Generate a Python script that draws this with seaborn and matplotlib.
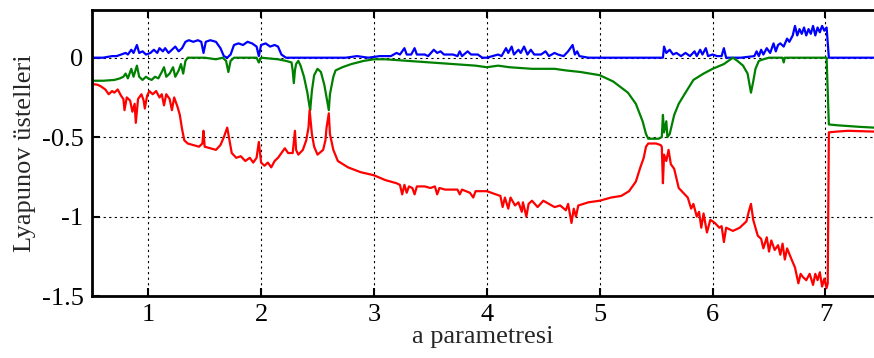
import matplotlib
matplotlib.use("Agg")
import matplotlib.pyplot as plt
import seaborn as sns

sns.set_style("white")
plt.rcParams['font.family'] = ['Liberation Serif', 'DejaVu Serif']
plt.rcParams['axes.unicode_minus'] = False

# largest exponent (blue)
a_blue = [0.50, 0.60, 0.68, 0.72, 0.76, 0.80, 0.82, 0.85, 0.87, 0.90, 0.92, 0.95, 0.98, 1.02, 1.05,
          1.08, 1.10, 1.13, 1.15, 1.18, 1.21, 1.24, 1.27, 1.30, 1.33, 1.36, 1.40, 1.44, 1.47, 1.49,
          1.51, 1.55, 1.60, 1.64, 1.67, 1.70, 1.73, 1.76, 1.80, 1.84, 1.88, 1.92, 1.96, 1.98, 2.00,
          2.04, 2.08, 2.12, 2.15, 2.18, 2.22, 2.60, 2.75, 2.85, 2.95, 3.05, 3.15, 3.20, 3.23, 3.27,
          3.29, 3.33, 3.36, 3.38, 3.45, 3.48, 3.53, 3.56, 3.59, 3.62, 3.70, 3.74, 3.76, 3.78, 3.83,
          3.86, 3.92, 3.96, 4.00, 4.05, 4.10, 4.13, 4.17, 4.19, 4.22, 4.24, 4.28, 4.30, 4.33, 4.36,
          4.39, 4.42, 4.48, 4.52, 4.55, 4.60, 4.63, 4.68, 4.72, 4.76, 4.78, 4.80, 4.82, 4.90, 5.00,
          5.56, 5.57, 5.59, 5.62, 5.65, 5.68, 5.72, 5.76, 5.80, 5.84, 5.86, 5.89, 5.91, 5.94, 5.96,
          6.00, 6.04, 6.08, 6.10, 6.12, 6.25, 6.37, 6.39, 6.41, 6.43, 6.45, 6.48, 6.51, 6.54, 6.56,
          6.58, 6.60, 6.63, 6.66, 6.68, 6.71, 6.73, 6.75, 6.77, 6.79, 6.81, 6.83, 6.85, 6.87, 6.89,
          6.91, 6.93, 6.95, 6.97, 6.99, 7.01, 7.03, 7.43]
lam1 = [0.00, 0.00, 0.01, 0.01, 0.02, 0.03, 0.02, 0.05, 0.03, 0.08, 0.03, 0.04, 0.02, 0.03, 0.05,
        0.03, 0.06, 0.04, 0.06, 0.03, 0.05, 0.07, 0.04, 0.06, 0.10, 0.11, 0.10, 0.11, 0.10, 0.03,
        0.10, 0.11, 0.10, 0.06, 0.01, 0.00, 0.02, 0.08, 0.09, 0.08, 0.10, 0.09, 0.07, 0.01, 0.08,
        0.09, 0.07, 0.08, 0.07, 0.02, 0.00, 0.00, 0.00, 0.01, 0.00, 0.01, 0.01, 0.03, 0.02, 0.06,
        0.02, 0.02, 0.06, 0.02, 0.02, 0.01, 0.05, 0.03, 0.04, 0.02, 0.02, 0.01, 0.04, 0.01, 0.04,
        0.02, 0.02, 0.00, 0.00, 0.01, 0.02, 0.01, 0.06, 0.03, 0.07, 0.02, 0.05, 0.03, 0.07, 0.02,
        0.05, 0.02, 0.02, 0.04, 0.01, 0.03, 0.02, 0.01, 0.04, 0.08, 0.02, 0.04, 0.01, 0.00, 0.00,
        0.00, 0.07, 0.03, 0.05, 0.02, 0.03, 0.01, 0.03, 0.01, 0.04, 0.01, 0.05, 0.02, 0.06, 0.01,
        0.02, 0.01, 0.01, 0.06, 0.00, 0.00, 0.01, 0.04, 0.01, 0.05, 0.02, 0.06, 0.03, 0.09, 0.04,
        0.08, 0.09, 0.07, 0.12, 0.10, 0.14, 0.20, 0.14, 0.18, 0.15, 0.19, 0.14, 0.18, 0.15, 0.20,
        0.14, 0.19, 0.16, 0.20, 0.17, 0.19, 0.00, 0.00]

# second exponent (green)
a_green = [0.50, 0.60, 0.70, 0.75, 0.78, 0.80, 0.82, 0.85, 0.87, 0.90, 0.92, 0.95, 0.98, 1.00, 1.03,
           1.06, 1.09, 1.12, 1.14, 1.16, 1.19, 1.22, 1.24, 1.27, 1.29, 1.31, 1.33, 1.35, 1.45, 1.50,
           1.60, 1.66, 1.69, 1.71, 1.73, 1.76, 1.90, 1.96, 1.98, 2.00, 2.15, 2.22, 2.27, 2.28, 2.29,
           2.30, 2.31, 2.33, 2.35, 2.38, 2.41, 2.43, 2.435, 2.45, 2.47, 2.50, 2.53, 2.56, 2.58, 2.60,
           2.61, 2.64, 2.66, 2.72, 2.80, 2.91, 3.00, 3.10, 3.30, 3.50, 3.70, 3.90, 4.00, 4.10, 4.20,
           4.40, 4.60, 4.70, 4.83, 5.00, 5.12, 5.25, 5.32, 5.38, 5.41, 5.43, 5.52, 5.55, 5.56, 5.57,
           5.59, 5.60, 5.62, 5.66, 5.70, 5.76, 5.83, 5.92, 6.00, 6.10, 6.18, 6.22, 6.27, 6.31, 6.34,
           6.36, 6.38, 6.41, 6.45, 6.50, 6.62, 6.63, 6.64, 7.01, 7.03, 7.10, 7.20, 7.30, 7.43]
lam2 = [-0.145, -0.145, -0.14, -0.13, -0.12, -0.10, -0.13, -0.07, -0.12, -0.05, -0.12, -0.14, -0.12, -0.13, -0.14,
        -0.12, -0.13, -0.09, -0.06, -0.12, -0.10, -0.06, -0.12, -0.08, -0.04, -0.10, -0.02, 0.00, 0.00, 0.00,
        -0.01, 0.00, -0.02, -0.09, -0.02, 0.00, 0.00, 0.00, -0.03, 0.00, -0.01, -0.02, -0.03, -0.08, -0.16,
        -0.08, -0.04, -0.02, -0.05, -0.12, -0.22, -0.31, -0.33, -0.21, -0.11, -0.07, -0.09, -0.17, -0.25, -0.33,
        -0.23, -0.12, -0.08, -0.06, -0.04, -0.02, -0.01, -0.01, -0.02, -0.03, -0.04, -0.05, -0.06, -0.05, -0.06,
        -0.07, -0.07, -0.08, -0.09, -0.11, -0.15, -0.22, -0.29, -0.40, -0.48, -0.51, -0.51, -0.50, -0.36, -0.47,
        -0.40, -0.50, -0.48, -0.36, -0.29, -0.22, -0.14, -0.10, -0.07, -0.04, 0.00, -0.02, -0.05, -0.10, -0.22,
        -0.15, -0.07, -0.02, -0.01, 0.00, 0.00, -0.03, 0.00, 0.00, -0.42, -0.425, -0.43, -0.435, -0.44]

# third exponent (red)
a_red = [0.50, 0.55, 0.58, 0.62, 0.65, 0.68, 0.70, 0.73, 0.76, 0.78, 0.79, 0.81, 0.84, 0.86, 0.88,
         0.89, 0.91, 0.94, 0.96, 0.97, 0.99, 1.01, 1.04, 1.07, 1.10, 1.12, 1.14, 1.16, 1.19, 1.21,
         1.23, 1.26, 1.28, 1.30, 1.32, 1.35, 1.40, 1.45, 1.48, 1.49, 1.50, 1.55, 1.60, 1.64, 1.67,
         1.70, 1.72, 1.74, 1.78, 1.82, 1.86, 1.90, 1.93, 1.96, 1.98, 2.00, 2.03, 2.06, 2.09, 2.12,
         2.15, 2.18, 2.21, 2.24, 2.27, 2.28, 2.30, 2.31, 2.33, 2.37, 2.40, 2.42, 2.43, 2.45, 2.47,
         2.50, 2.55, 2.57, 2.58, 2.60, 2.61, 2.64, 2.68, 2.77, 2.88, 3.00, 3.10, 3.20, 3.23, 3.25,
         3.27, 3.29, 3.31, 3.34, 3.36, 3.38, 3.45, 3.50, 3.54, 3.56, 3.58, 3.63, 3.70, 3.74, 3.76,
         3.78, 3.85, 3.88, 3.90, 4.00, 4.08, 4.12, 4.14, 4.16, 4.19, 4.21, 4.25, 4.28, 4.31, 4.32,
         4.35, 4.37, 4.40, 4.45, 4.50, 4.55, 4.60, 4.65, 4.70, 4.72, 4.75, 4.77, 4.79, 4.81, 4.90,
         5.00, 5.10, 5.19, 5.26, 5.32, 5.36, 5.39, 5.41, 5.43, 5.50, 5.54, 5.55, 5.56, 5.57, 5.59,
         5.61, 5.63, 5.66, 5.70, 5.74, 5.78, 5.81, 5.83, 5.86, 5.88, 5.90, 5.92, 5.95, 5.98, 6.02,
         6.06, 6.08, 6.10, 6.12, 6.18, 6.24, 6.30, 6.32, 6.34, 6.36, 6.40, 6.43, 6.45, 6.48, 6.50,
         6.52, 6.55, 6.58, 6.60, 6.62, 6.64, 6.66, 6.70, 6.73, 6.76, 6.78, 6.80, 6.83, 6.86, 6.89,
         6.91, 6.93, 6.95, 6.97, 6.99, 7.01, 7.02, 7.03, 7.10, 7.20, 7.43]
lam3 = [-0.165, -0.17, -0.18, -0.20, -0.23, -0.21, -0.22, -0.20, -0.24, -0.26, -0.33, -0.25, -0.27, -0.34, -0.29,
        -0.41, -0.26, -0.23, -0.27, -0.32, -0.24, -0.21, -0.23, -0.21, -0.25, -0.23, -0.30, -0.23, -0.26, -0.33,
        -0.25, -0.31, -0.36, -0.45, -0.52, -0.54, -0.55, -0.56, -0.54, -0.46, -0.56, -0.57, -0.58, -0.55, -0.50,
        -0.44, -0.52, -0.60, -0.63, -0.62, -0.65, -0.63, -0.66, -0.63, -0.53, -0.66, -0.68, -0.66, -0.69, -0.65,
        -0.63, -0.60, -0.57, -0.60, -0.60, -0.60, -0.46, -0.58, -0.61, -0.58, -0.52, -0.44, -0.33, -0.48, -0.56,
        -0.61, -0.58, -0.52, -0.44, -0.35, -0.48, -0.58, -0.65, -0.69, -0.72, -0.74, -0.77, -0.79, -0.80, -0.86,
        -0.80, -0.85, -0.81, -0.82, -0.86, -0.81, -0.81, -0.82, -0.81, -0.86, -0.82, -0.83, -0.83, -0.83, -0.86,
        -0.83, -0.85, -0.88, -0.84, -0.84, -0.86, -0.87, -0.94, -0.88, -0.95, -0.88, -0.93, -0.91, -0.97, -0.91,
        -1.00, -0.92, -0.90, -0.94, -0.90, -0.92, -0.94, -0.93, -0.96, -0.92, -1.04, -0.95, -1.00, -0.93, -0.91,
        -0.90, -0.88, -0.87, -0.84, -0.78, -0.69, -0.63, -0.56, -0.54, -0.54, -0.55, -0.56, -0.79, -0.61, -0.65,
        -0.58, -0.67, -0.70, -0.82, -0.85, -0.88, -0.95, -0.92, -1.00, -0.97, -1.07, -0.98, -1.10, -1.02, -1.04,
        -1.07, -1.06, -1.16, -1.07, -1.09, -1.07, -1.03, -0.97, -0.92, -1.02, -1.12, -1.14, -1.20, -1.13, -1.22,
        -1.15, -1.21, -1.18, -1.24, -1.17, -1.27, -1.20, -1.27, -1.32, -1.42, -1.36, -1.38, -1.40, -1.36, -1.43,
        -1.36, -1.40, -1.35, -1.44, -1.39, -1.45, -1.42, -0.47, -0.465, -0.46, -0.465]

x_ticks = [1, 2, 3, 4, 5, 6, 7]
y_ticks = [-1.5, -1, -0.5, 0]
y_tick_labels = ["-1.5", "-1", "-0.5", "0"]

fig = plt.figure(figsize=(8.74, 3.58), dpi=100)
ax = fig.add_axes([0.105, 0.173, 0.895, 0.799])

sns.lineplot(x=a_blue, y=lam1, color=(0, 0, 1), lw=1.6, ax=ax)
sns.lineplot(x=a_green, y=lam2, color=(0, 0.5, 0), lw=1.6, ax=ax)
sns.lineplot(x=a_red, y=lam3, color=(1, 0, 0), lw=1.6, ax=ax)

ax.set_xlim(0.5, 7.43)
ax.set_ylim(-1.5, 0.3)
ax.set_xticks(x_ticks)
ax.set_yticks(y_ticks)
ax.set_yticklabels(y_tick_labels)
ax.grid(True, color='black', linestyle=(0, (2, 3)), linewidth=0.8)
ax.tick_params(direction='in', length=6, width=1.5, labelsize=19, top=True, left=True,
               bottom=True, pad=6, colors='black')
for s in ['left', 'bottom', 'top']:
    ax.spines[s].set_linewidth(2)
    ax.spines[s].set_color('black')
ax.spines['right'].set_visible(False)

ax.set_xlabel("a parametresi", fontsize=19, labelpad=0)
ax.set_ylabel("Lyapunov üstelleri", fontsize=19, labelpad=4)

fig.savefig("out.png", dpi=100)
